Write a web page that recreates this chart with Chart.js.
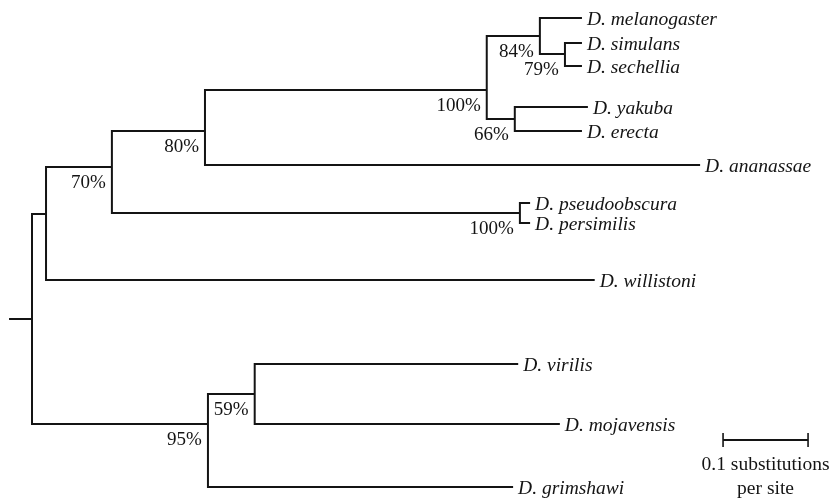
<!DOCTYPE html>
<html>
<head>
<meta charset="utf-8">
<script src="https://cdn.jsdelivr.net/npm/chart.js@4/dist/chart.umd.min.js"></script>
<style>
  html, body { margin: 0; padding: 0; background: #fff; }
  #wrap { width: 836px; height: 501px; }
</style>
</head>
<body>
<div id="wrap"><canvas id="c" width="836" height="501"></canvas></div>
<script>
// ---- Data (branch positions in substitutions per site from the root; rows = vertical order) ----
const taxa = ['D. melanogaster','D. simulans','D. sechellia','D. yakuba','D. erecta','D. ananassae',
              'D. pseudoobscura','D. persimilis','D. willistoni','D. virilis','D. mojavensis','D. grimshawi'];
const taxaDepth  = [0.647, 0.647, 0.647, 0.654, 0.647, 0.786, 0.586, 0.586, 0.662, 0.572, 0.621, 0.566];
const taxaRow    = [18, 43, 66, 107, 131, 165, 203, 223, 280, 364, 424, 487];
const taxaParent = ['E','F','F','G','G','C','H','H','A','J','J','I'];

const clades       = ['root','A','B','C','D','E','F','G','H','I','J'];
const cladeDepth   = [0, 0.0165, 0.094, 0.2035, 0.535, 0.5975, 0.627, 0.568, 0.574, 0.207, 0.262];
const cladeRow     = [319, 214, 167, 131, 90, 36, 54, 119, 213, 424, 394];
const cladeParent  = [null,'root','A','B','C','D','E','D','B','root','I'];
const cladeSupport = [null, null, '70%', '80%', '100%', '84%', '79%', '66%', '100%', '95%', '59%'];

const rootStub = -0.027;          // stem drawn to the left of the root
const scaleBarStart = 0.813;      // scale bar position (substitutions)
const scaleBarLength = 0.1;       // 0.1 substitutions per site
const scaleBarRow = 440;
const scaleBarLabel = ['0.1 substitutions', 'per site'];

// ---- Build segments from the tree ----
const nodes = {};
clades.forEach((c, i) => nodes[c] = { depth: cladeDepth[i], row: cladeRow[i], children: [] });
clades.forEach((c, i) => { if (cladeParent[i]) nodes[cladeParent[i]].children.push({ depth: cladeDepth[i], row: cladeRow[i] }); });
taxa.forEach((t, i) => nodes[taxaParent[i]].children.push({ depth: taxaDepth[i], row: taxaRow[i] }));

const INK = '#141414';
const datasets = [];
function seg(points) {
  datasets.push({
    data: points, showLine: true, pointRadius: 0, pointHoverRadius: 0,
    borderColor: INK, borderWidth: 2, borderJoinStyle: 'miter', borderCapStyle: 'butt',
    tension: 0, fill: false
  });
}
clades.forEach(c => {
  const n = nodes[c];
  const ch = n.children.slice().sort((a, b) => a.row - b.row);
  const first = ch[0], last = ch[ch.length - 1];
  seg([{x: first.depth, y: first.row}, {x: n.depth, y: first.row}, {x: n.depth, y: last.row}, {x: last.depth, y: last.row}]);
  for (let k = 1; k < ch.length - 1; k++) seg([{x: n.depth, y: ch[k].row}, {x: ch[k].depth, y: ch[k].row}]);
});
// root stem
seg([{x: rootStub, y: cladeRow[0]}, {x: 0, y: cladeRow[0]}]);
// scale bar
seg([{x: scaleBarStart, y: scaleBarRow}, {x: scaleBarStart + scaleBarLength, y: scaleBarRow}]);
seg([{x: scaleBarStart, y: scaleBarRow - 7}, {x: scaleBarStart, y: scaleBarRow + 7}]);
seg([{x: scaleBarStart + scaleBarLength, y: scaleBarRow - 7}, {x: scaleBarStart + scaleBarLength, y: scaleBarRow + 7}]);
datasets.forEach(d => { d.borderWidth = d.data.length === 2 && d.data[0].x === d.data[1].x && d.data[0].y !== cladeRow[0] ? 1.6 : 2; });

const labelsPlugin = {
  id: 'treeLabels',
  afterDatasetsDraw(chart) {
    const { ctx, scales: { x, y } } = chart;
    ctx.save();
    ctx.fillStyle = INK;
    ctx.textBaseline = 'alphabetic';
    // taxon labels
    ctx.font = 'italic 19.5px "Liberation Serif", "DejaVu Serif", serif';
    ctx.textAlign = 'left';
    taxa.forEach((t, i) => {
      ctx.fillText(t, x.getPixelForValue(taxaDepth[i]) + 5, y.getPixelForValue(taxaRow[i]) + 7);
    });
    // support values
    ctx.font = '19px "Liberation Serif", "DejaVu Serif", serif';
    ctx.textAlign = 'right';
    clades.forEach((c, i) => {
      if (!cladeSupport[i]) return;
      ctx.fillText(cladeSupport[i], x.getPixelForValue(cladeDepth[i]) - 6, y.getPixelForValue(cladeRow[i]) + 21);
    });
    // scale bar caption
    ctx.font = '19.5px "Liberation Serif", "DejaVu Serif", serif';
    ctx.textAlign = 'center';
    const cx = x.getPixelForValue(scaleBarStart + scaleBarLength / 2);
    const by = y.getPixelForValue(scaleBarRow);
    ctx.fillText(scaleBarLabel[0], cx, by + 30);
    ctx.fillText(scaleBarLabel[1], cx, by + 54);
    ctx.restore();
  }
};

new Chart(document.getElementById('c'), {
  type: 'scatter',
  data: { datasets },
  options: {
    responsive: false,
    animation: false,
    events: [],
    layout: { padding: 0 },
    plugins: { legend: { display: false }, tooltip: { enabled: false } },
    scales: {
      x: { type: 'linear', display: false, min: -32 / 850, max: 804 / 850 },
      y: { type: 'linear', display: false, min: 0, max: 501, reverse: true }
    }
  },
  plugins: [labelsPlugin]
});
</script>
</body>
</html>
